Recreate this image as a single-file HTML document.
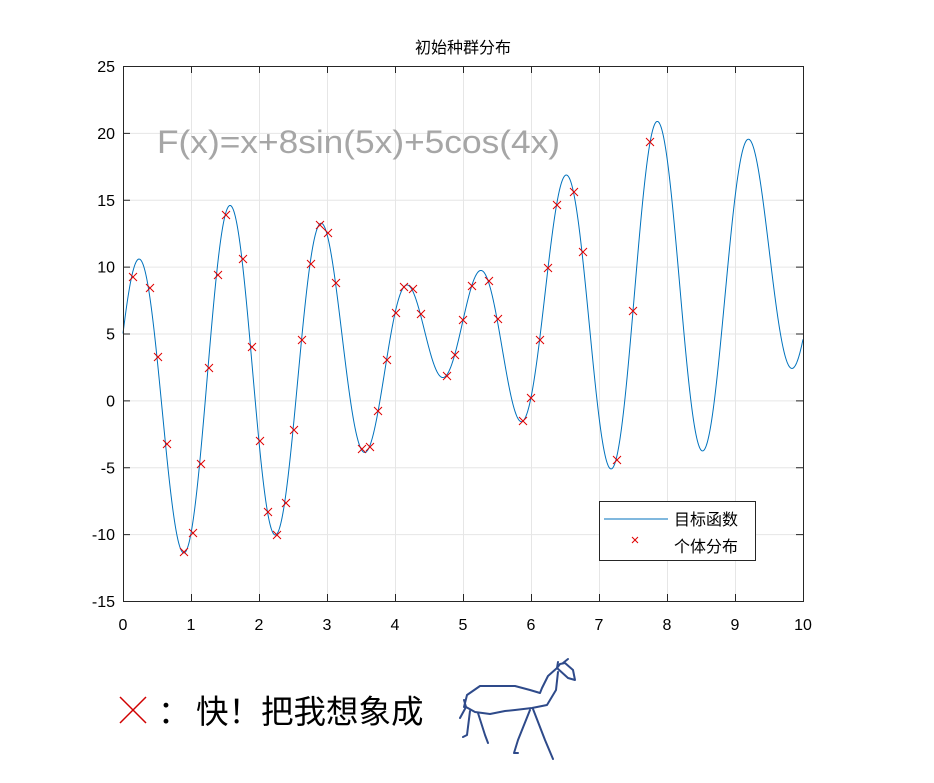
<!DOCTYPE html>
<html><head><meta charset="utf-8"><style>
html,body{margin:0;padding:0;background:#fff;width:934px;height:783px;overflow:hidden}
svg{display:block}
text{font-family:"Liberation Sans","Noto Sans CJK SC",sans-serif}
</style></head><body>
<svg id="s" width="934" height="783" viewBox="0 0 934 783" xmlns="http://www.w3.org/2000/svg">
<rect x="123" y="66" width="680" height="535" fill="#fff"/>
<g id="grid" stroke="#e6e6e6" stroke-width="1"></g>
<text x="463" y="53" font-size="16" text-anchor="middle" fill="#000">初始种群分布</text>
<text x="157" y="153" font-size="32" fill="#a6a6a6" textLength="403" lengthAdjust="spacingAndGlyphs">F(x)=x+8sin(5x)+5cos(4x)</text>
<path id="curve" fill="none" stroke="#0072bd" stroke-width="1"/>
<g id="marks" stroke="#e00000" stroke-width="1"></g>
<rect x="123.5" y="66.5" width="680" height="535" fill="none" stroke="#262626" stroke-width="1"/>
<g id="ticks" stroke="#262626" stroke-width="1"></g>
<g id="labels" font-size="16" fill="#000"></g>
<rect x="599.5" y="501.5" width="156" height="59" fill="#fff" stroke="#262626"/>
<line x1="604" y1="519" x2="668" y2="519" stroke="#0072bd"/>
<text x="674" y="525" font-size="16">目标函数</text>
<path d="M632,537l6,6M638,537l-6,6" stroke="#e00000"/>
<text x="674" y="552" font-size="16">个体分布</text>
<path d="M120,697l26,26M146,697l-26,26" stroke="#d00000" stroke-width="1.5"/>
<text x="158" y="723" font-size="32">：</text>
<text x="196" y="723" font-size="32.5">快！把我想象成</text>
<g fill="none" stroke="#2e4a8a" stroke-width="2" stroke-linecap="round" stroke-linejoin="round">
<path d="M464,707L467,695L480,686L515,686L530,690L540,693L542,688L548,676L557,668"/>
<path d="M557,668L560,664L565,663L573,670L575,680L568,678L557,668"/>
<path d="M557,668L558,662M563,663L568,659"/>
<path d="M558,672L556,690L547,705L532,708L515,710L505,711L490,714L475,712L466,707L464,700"/>
<path d="M466,707L460,718M470,711L467,735L463,737M478,713L485,735L488,743M530,710L518,740L514,753L518,753M533,709L545,740L553,759"/>
</g>
</svg>
<script>
var NS="http://www.w3.org/2000/svg";
function X(v){return 123+v*68}function Y(v){return 601-(v+15)*13.375}
function el(p,t,a,txt){var e=document.createElementNS(NS,t);for(var k in a)e.setAttribute(k,a[k]);if(txt!=null)e.textContent=txt;document.getElementById(p).appendChild(e);}
for(var i=1;i<10;i++){el("grid","line",{x1:X(i)+.5,x2:X(i)+.5,y1:66,y2:601});}
for(var v=-10;v<=20;v+=5){el("grid","line",{x1:123,x2:803,y1:Y(v)+.5,y2:Y(v)+.5});}
for(var i=0;i<=10;i++){var x=X(i)+.5;el("ticks","line",{x1:x,x2:x,y1:601,y2:594});el("ticks","line",{x1:x,x2:x,y1:66,y2:73});el("labels","text",{x:X(i),y:630,"text-anchor":"middle"},i);}
for(var v=-15;v<=25;v+=5){var y=Y(v)+.5;el("ticks","line",{x1:123,x2:130,y1:y,y2:y});el("ticks","line",{x1:803,x2:796,y1:y,y2:y});el("labels","text",{x:115,y:Y(v)+6,"text-anchor":"end"},v);}
var d="";for(var k=0;k<=2000;k++){var x=k/200,f=x+8*Math.sin(5*x)+5*Math.cos(4*x);d+=(k?"L":"M")+X(x).toFixed(2)+","+Y(f).toFixed(2);}
document.getElementById("curve").setAttribute("d",d);
var P=[[133,277],[150,288],[158,357],[167,444],[184,552],[193,533],[201,464],[209,368],[218,275],[226,215],[243,259],[252,347],[260,441],[268,512],[277,535],[286,503],[294,430],[302,340],[311,264],[320,225],[328,233],[336,283],[362,449],[370,447],[378,411],[387,360],[396,313],[404,287],[413,289],[421,314],[447,376],[455,355],[463,320],[472,286],[489,281],[498,319],[523,421],[531,398],[540,340],[548,268],[557,205],[574,192],[583,252],[617,460],[633,311],[650,142]];
P.forEach(function(p){el("marks","path",{d:"M"+(p[0]-4)+","+(p[1]-4)+"l8,8M"+(p[0]+4)+","+(p[1]-4)+"l-8,8"});});
</script>
</body></html>
